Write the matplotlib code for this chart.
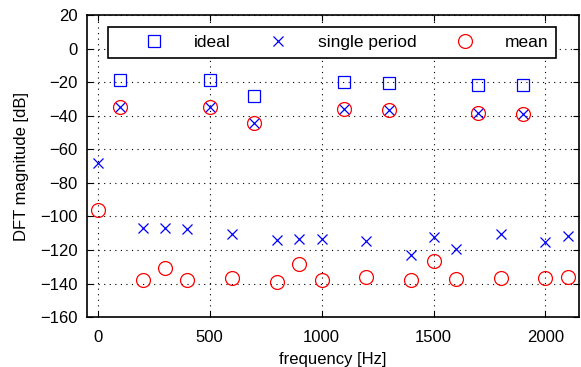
import numpy as np
import matplotlib.pyplot as plt

plt.rcParams['font.family'] = ['Liberation Sans', 'DejaVu Sans']

# harmonics (ideal spectrum)
f_ideal = [100, 500, 700, 1100, 1300, 1700, 1900]
ideal = [-18.7, -19.0, -28.3, -19.7, -20.3, -21.5, -21.9]

freq = [0, 100, 200, 300, 400, 500, 600, 700, 800, 900, 1000,
        1100, 1200, 1300, 1400, 1500, 1600, 1700, 1800, 1900, 2000, 2100]
single = [-68.4, -34.6, -106.7, -106.7, -107.7, -35.0, -110.5, -44.1, -114.3, -113.7, -113.3,
          -36.0, -114.7, -36.8, -122.8, -112.5, -119.6, -38.2, -110.7, -39.2, -115.4, -111.5]
mean = [-96.2, -34.6, -137.9, -130.6, -137.9, -35.0, -136.7, -44.1, -139.3, -128.4, -137.9,
        -36.0, -136.3, -36.8, -137.7, -126.6, -137.5, -38.2, -136.5, -39.2, -136.7, -136.3]

fig = plt.figure(figsize=(5.81, 3.67), dpi=100)
ax = fig.add_axes([0.149, 0.136, 0.8476, 0.823])

ax.plot(f_ideal, ideal, 's', color='blue', mfc='none', ms=8.5, mew=0.9, label='ideal')
ax.plot(freq, single, 'x', color='blue', ms=7, mew=0.9, label='single period')
ax.plot(freq, mean, 'o', color='red', mfc='none', ms=10, mew=0.9, label='mean')

ax.set_xlim(-50, 2150)
ax.set_ylim(-160, 20)
ax.set_xticks(np.arange(0, 2001, 500))
ax.set_yticks(np.arange(-160, 21, 20))
ax.grid(True, color='black', linestyle=(0, (1, 4)), linewidth=0.8)
ax.tick_params(direction='in', top=True, right=True, labelsize=12, length=4)
ax.tick_params(axis='x', pad=9)
ax.tick_params(axis='y', pad=6.5)
for s in ax.spines.values():
    s.set_linewidth(1.2)

ax.set_xlabel('frequency [Hz]', fontsize=12, labelpad=5)
ax.set_ylabel('DFT magnitude [dB]', fontsize=12, labelpad=7.5)

leg = ax.legend(loc='upper left', ncol=3, fontsize=12.5, fancybox=False,
                edgecolor='black', framealpha=1, bbox_to_anchor=(0.043, 0.961),
                borderaxespad=0, borderpad=0.45, handlelength=4.4,
                handletextpad=0.1, columnspacing=0.56)
leg.get_frame().set_linewidth(1.2)

fig.savefig('out.png')
